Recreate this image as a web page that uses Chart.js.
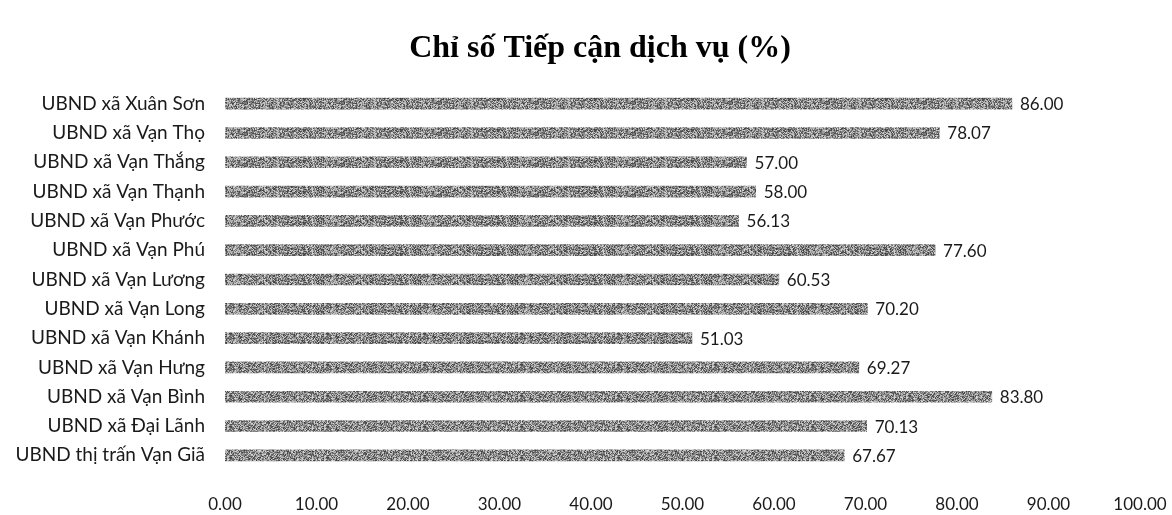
<!DOCTYPE html>
<html lang="vi">
<head>
<meta charset="utf-8">
<title>Chỉ số Tiếp cận dịch vụ (%)</title>
<script src="https://cdn.jsdelivr.net/npm/chart.js@4/dist/chart.umd.min.js"></script>
<style>
  html, body { margin: 0; padding: 0; background: #ffffff; }
  #wrap { position: relative; width: 1172px; height: 515px; }
</style>
</head>
<body>
<div id="wrap"><canvas id="chart" width="1172" height="515"></canvas></div>
<script>
// Units, listed top to bottom
const units = [
  "UBND xã Xuân Sơn",
  "UBND xã Vạn Thọ",
  "UBND xã Vạn Thắng",
  "UBND xã Vạn Thạnh",
  "UBND xã Vạn Phước",
  "UBND xã Vạn Phú",
  "UBND xã Vạn Lương",
  "UBND xã Vạn Long",
  "UBND xã Vạn Khánh",
  "UBND xã Vạn Hưng",
  "UBND xã Vạn Bình",
  "UBND xã Đại Lãnh",
  "UBND thị trấn Vạn Giã"
];

// Service access index (%)
const accessIndex = [86.00, 78.07, 57.00, 58.00, 56.13, 77.60, 60.53, 70.20, 51.03, 69.27, 83.80, 70.13, 67.67];

// Value axis ticks
const axisMin = 0;
const axisMax = 100;
const axisStep = 10;

const chartTitle = "Chỉ số Tiếp cận dịch vụ (%)";

const numberFont = { family: "Lato, 'Open Sans', sans-serif", size: 17 };
const unitFont = { family: "Lato, 'Open Sans', sans-serif", size: 19 };
const titleFont = "bold 32px 'Liberation Serif', 'Times New Roman', serif";

// Grey speckled fill for the bars (deterministic hash texture)
function speckle() {
  const c = document.createElement('canvas');
  c.width = 97; c.height = 31;
  const g = c.getContext('2d');
  const img = g.createImageData(c.width, c.height);
  for (let y = 0; y < c.height; y++) {
    for (let x = 0; x < c.width; x++) {
      let h = (x * 374761393 + y * 668265263) | 0;
      h = Math.imul(h ^ (h >>> 13), 1274126177);
      h = (h ^ (h >>> 16)) >>> 0;
      const v = 60 + (h % 160);
      const i = (y * c.width + x) * 4;
      img.data[i] = v; img.data[i + 1] = v; img.data[i + 2] = v; img.data[i + 3] = 255;
    }
  }
  g.putImageData(img, 0, 0);
  return g.createPattern(c, 'repeat');
}

// Heading, centred over the page area above the plot
const heading = {
  id: 'heading',
  afterDraw(chart) {
    const ctx = chart.ctx;
    ctx.save();
    ctx.font = titleFont;
    ctx.fillStyle = '#000000';
    ctx.textAlign = 'center';
    ctx.textBaseline = 'middle';
    ctx.fillText(chartTitle, 600, 49);
    ctx.restore();
  }
};

// Writes each bar's value just past its end
const barValueLabels = {
  id: 'barValueLabels',
  afterDatasetsDraw(chart) {
    const ctx = chart.ctx;
    const meta = chart.getDatasetMeta(0);
    const values = chart.data.datasets[0].data;
    ctx.save();
    ctx.font = `${numberFont.size}px ${numberFont.family}`;
    ctx.fillStyle = '#1a1a1a';
    ctx.textAlign = 'left';
    ctx.textBaseline = 'middle';
    meta.data.forEach((bar, i) => {
      ctx.fillText(values[i].toFixed(2), bar.x + 8, bar.y + 1);
    });
    ctx.restore();
  }
};

new Chart(document.getElementById('chart'), {
  type: 'bar',
  data: {
    labels: units,
    datasets: [{
      data: accessIndex,
      backgroundColor: speckle(),
      borderWidth: 0,
      barThickness: 11
    }]
  },
  options: {
    indexAxis: 'y',
    responsive: false,
    animation: false,
    layout: { padding: { left: 0, right: 0, top: 89, bottom: 2 } },
    plugins: {
      legend: { display: false },
      tooltip: { enabled: false },
      title: { display: false }
    },
    scales: {
      x: {
        min: axisMin,
        max: axisMax,
        grid: { display: false, drawTicks: false },
        border: { display: false },
        afterFit(scale) {
          scale.height = 43;
          scale.paddingRight = 32;
          scale.paddingLeft = 0;
        },
        ticks: {
          stepSize: axisStep,
          padding: 24,
          color: '#1a1a1a',
          font: numberFont,
          maxRotation: 0,
          callback: (v) => Number(v).toFixed(2)
        }
      },
      y: {
        grid: { display: false, drawTicks: false },
        border: { display: false },
        afterFit(scale) { scale.width = 225; },
        ticks: {
          padding: 20,
          color: '#1a1a1a',
          font: unitFont
        }
      }
    }
  },
  plugins: [barValueLabels, heading]
});
</script>
</body>
</html>
